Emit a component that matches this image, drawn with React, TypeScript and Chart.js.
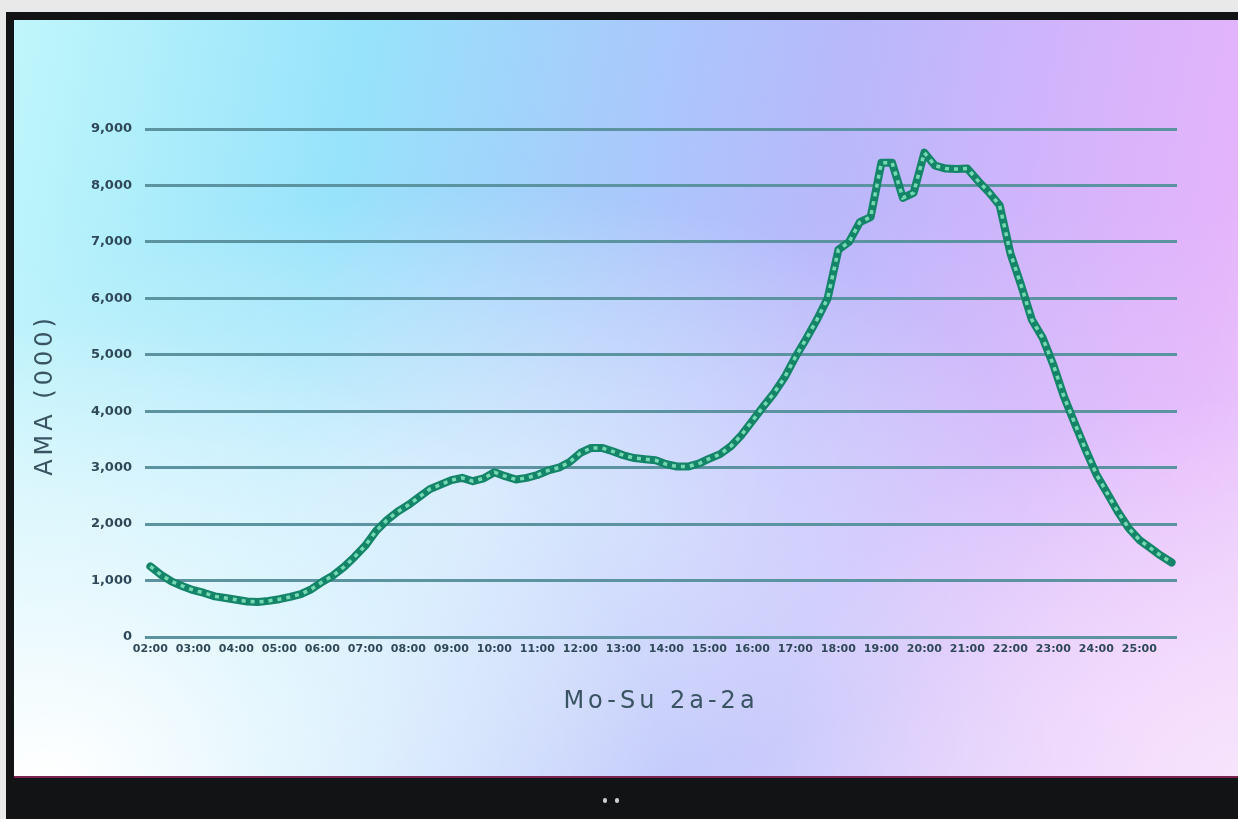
import React, { useEffect, useRef } from "react";
import { Chart, registerables } from "chart.js";

Chart.register(...registerables);

// ---------- data ----------
const hourTicks = [
  "02:00", "03:00", "04:00", "05:00", "06:00", "07:00", "08:00", "09:00",
  "10:00", "11:00", "12:00", "13:00", "14:00", "15:00", "16:00", "17:00",
  "18:00", "19:00", "20:00", "21:00", "22:00", "23:00", "24:00", "25:00",
];
const quarterMinutes = ["00", "15", "30", "45"];
const timeSlots = hourTicks.flatMap((h) => quarterMinutes.map((m) => h.slice(0, 3) + m));

const amaValues = [
  1250, 1100, 980, 900, 830, 780, 720, 690,
  660, 630, 620, 640, 670, 710, 760, 850,
  980, 1090, 1240, 1420, 1620, 1880, 2070, 2220,
  2340, 2480, 2620, 2700, 2780, 2820, 2760, 2810,
  2920, 2850, 2790, 2820, 2870, 2950, 3000, 3100,
  3260, 3350, 3350, 3290, 3220, 3170, 3150, 3130,
  3060, 3020, 3020, 3070, 3160, 3240, 3380, 3580,
  3830, 4080, 4320, 4600, 4960, 5280, 5620, 6000,
  6860, 7000, 7350, 7440, 8400, 8400, 7780, 7870,
  8580, 8350, 8300, 8290, 8300, 8080, 7880, 7650,
  6800, 6230, 5620, 5300, 4820, 4250, 3780, 3320,
  2880, 2550, 2220, 1930, 1720, 1580, 1440, 1320,
];

const yMin = 0;
const yMax = 9000;
const yStep = 1000;
const yAxisTitle = "AMA (000)";
const xAxisTitle = "Mo-Su 2a-2a";

// ---------- plugin: letter-spaced axis titles ----------
const spacedTitles = {
  id: "spacedTitles",
  afterLayout(chart: any) {
    Object.values(chart.scales).forEach((s: any) => {
      if (s.__spaced) return;
      const orig = s.drawTitle.bind(s);
      s.drawTitle = (...args: any[]) => {
        const ctx = chart.ctx as any;
        ctx.save();
        ctx.letterSpacing = "4px";
        if (s.axis === "y") {
          // nudge the vertical title slightly downward, as in the reference
          ctx.translate(0, 12);
        }
        orig(...args);
        ctx.restore();
      };
      s.__spaced = true;
    });
  },
};

const CANVAS_W = 1224;
const CANVAS_H = 758;

export default function App() {
  const ref = useRef<HTMLCanvasElement | null>(null);

  useEffect(() => {
    if (!ref.current) return;
    const chart = new Chart(ref.current, {
      type: "line",
      data: {
        labels: timeSlots,
        datasets: [
          {
            data: amaValues,
            borderColor: "#74d9b3",
            borderWidth: 3.5,
            borderDash: [4, 5],
            pointRadius: 0,
            tension: 0,
            fill: false,
            order: 1,
          },
          {
            data: amaValues,
            borderColor: "#15856a",
            borderWidth: 8,
            pointRadius: 0,
            tension: 0,
            fill: false,
            borderJoinStyle: "round",
            borderCapStyle: "round",
            order: 2,
          },
        ],
      },
      options: {
        responsive: false,
        animation: false,
        layout: { padding: { left: 10, right: 61, top: 109, bottom: 30 } },
        plugins: { legend: { display: false }, tooltip: { enabled: false } },
        scales: {
          x: {
            offset: true,
            grid: { display: false, drawTicks: false },
            border: { display: false },
            ticks: {
              autoSkip: false,
              maxRotation: 0,
              minRotation: 0,
              padding: 6,
              color: "#30495a",
              font: { family: "DejaVu Sans", size: 11, weight: "bold" },
              callback: (_v: any, i: number) => (i % 4 === 0 ? hourTicks[i / 4] : ""),
            },
            title: {
              display: true,
              text: xAxisTitle,
              color: "#3a5464",
              font: { family: "DejaVu Sans", size: 24, weight: "normal" },
              padding: { top: 0, bottom: 32 },
            },
            afterFit: (s: any) => {
              s.height = 111;
            },
          },
          y: {
            min: yMin,
            max: yMax,
            grid: { color: "#5c93a0", lineWidth: 3, drawTicks: false },
            border: { display: false },
            ticks: {
              stepSize: yStep,
              padding: 13,
              color: "#30495a",
              font: { family: "DejaVu Sans", size: 13, weight: "bold" },
              callback: (v: any) => Number(v).toLocaleString("en-US"),
            },
            title: {
              display: true,
              text: yAxisTitle,
              color: "#3a5464",
              font: { family: "DejaVu Sans", size: 24, weight: "normal" },
              padding: { top: 7, bottom: 0 },
            },
            afterFit: (s: any) => {
              s.width = 121;
            },
          },
        },
      },
      plugins: [spacedTitles],
    } as any);
    return () => chart.destroy();
  }, []);

  return (
    <div
      style={{
        position: "fixed",
        left: 0,
        top: 0,
        width: 1238,
        height: 819,
        background: "#e9e9e9",
        overflow: "hidden",
      }}
    >
      <div
        style={{
          position: "absolute",
          left: 6,
          top: 12,
          right: 0,
          bottom: 0,
          background: "#121314",
        }}
      />
      <div
        style={{
          position: "absolute",
          left: 14,
          top: 20,
          width: CANVAS_W,
          height: CANVAS_H,
          borderBottom: "2px solid #7a2350",
          boxSizing: "border-box",
          background:
            "radial-gradient(ellipse 50% 60% at 3% 100%, rgba(255,255,255,1) 0%, rgba(255,255,255,0) 100%)," +
            "radial-gradient(ellipse 45% 40% at 38% 62%, rgba(255,255,255,0.5) 0%, rgba(255,255,255,0) 100%)," +
            "radial-gradient(ellipse 38% 50% at 100% 100%, rgba(248,228,252,0.95) 0%, rgba(248,228,252,0) 100%)," +
            "radial-gradient(ellipse 30% 35% at 55% 100%, rgba(192,200,250,0.55) 0%, rgba(192,200,250,0) 100%)," +
            "linear-gradient(to bottom, rgba(255,255,255,0) 25%, rgba(238,242,255,0.4) 100%)," +
            "linear-gradient(100deg, #c0f6fb 0%, #97e3fb 26%, #a8cafb 46%, #b8b8fb 62%, #d2b4fb 78%, #e4b4fb 92%, #eabefb 100%)",
        }}
      >
        <canvas ref={ref} width={CANVAS_W} height={CANVAS_H} style={{ width: CANVAS_W, height: CANVAS_H, display: "block" }} />
      </div>
      <div style={{ position: "absolute", left: 603, top: 798, width: 4, height: 5, borderRadius: 2, background: "#cfcfcf" }} />
      <div style={{ position: "absolute", left: 615, top: 798, width: 4, height: 5, borderRadius: 2, background: "#cfcfcf" }} />
    </div>
  );
}
